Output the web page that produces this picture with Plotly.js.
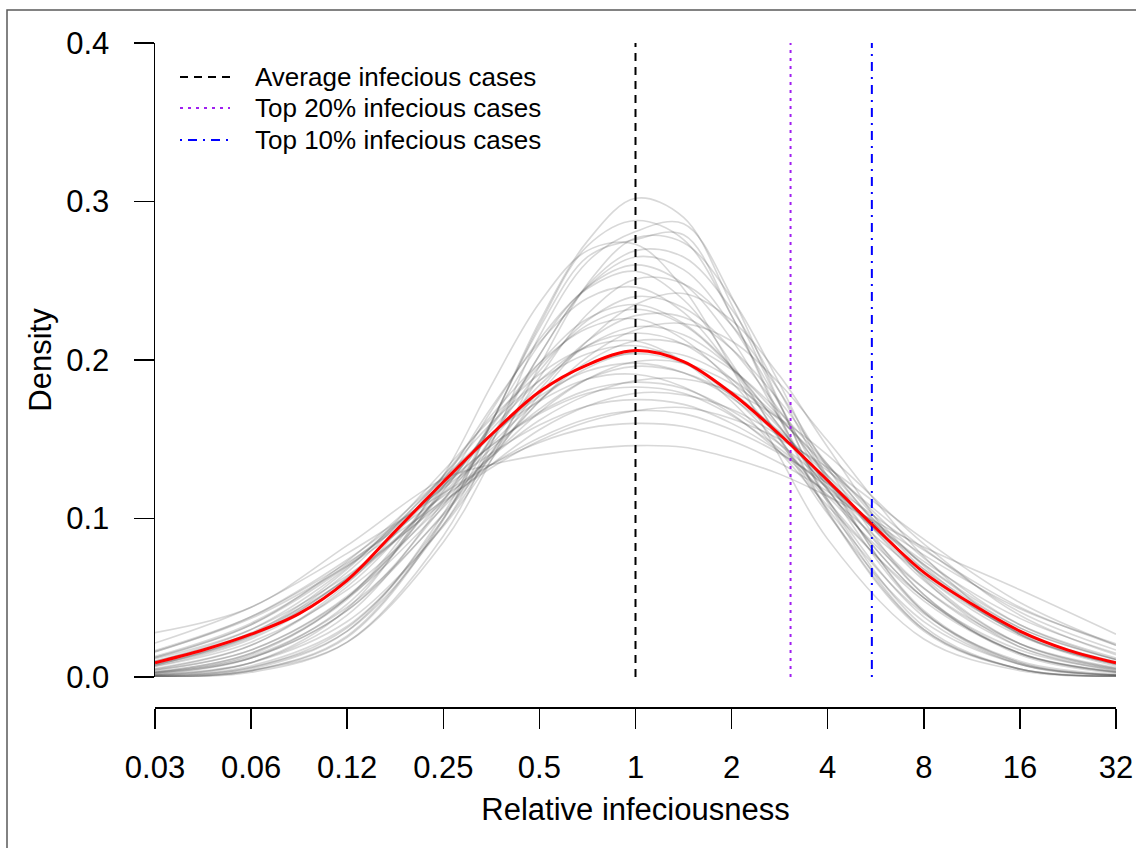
<!DOCTYPE html>
<html>
<head>
<meta charset="utf-8">
<script src="https://cdn.plot.ly/plotly-3.0.1.min.js"></script>
<style>
html,body{margin:0;padding:0;background:#fff;}
#chart{width:1136px;height:848px;}
</style>
</head>
<body>
<div id="chart"></div>
<script>
// ---- tick definitions ----
const xTickLog2 = [-5,-4,-3,-2,-1,0,1,2,3,4,5];
const xTickLabels = ["0.03","0.06","0.12","0.25","0.5","1","2","4","8","16","32"];
const yTickValues = [0,0.1,0.2,0.3,0.4];
const yTickLabels = ["0.0","0.1","0.2","0.3","0.4"];

// ---- individual (gray) density curves, sampled on log2 grid ----
const grayGridLog2 = [-5,-4,-3,-2,-1.5,-1,-0.5,0,0.5,1,1.5,2,3,4,5];
const grayDensities = [
  [0.0003,0.004,0.025,0.099,0.160,0.224,0.275,0.302,0.290,0.235,0.172,0.112,0.032,0.005,0.0007],
  [0.0003,0.003,0.022,0.089,0.147,0.215,0.262,0.281,0.286,0.240,0.173,0.110,0.030,0.005,0.0004],
  [0.0004,0.004,0.026,0.100,0.160,0.222,0.272,0.288,0.276,0.228,0.165,0.105,0.030,0.005,0.0005],
  [0.0005,0.005,0.029,0.103,0.161,0.220,0.265,0.276,0.279,0.228,0.163,0.104,0.029,0.005,0.0005],
  [0.0004,0.004,0.022,0.085,0.137,0.196,0.248,0.277,0.274,0.239,0.185,0.126,0.041,0.008,0.001],
  [0.0012,0.009,0.043,0.127,0.184,0.236,0.269,0.273,0.245,0.195,0.139,0.087,0.024,0.004,0.0004],
  [0.0007,0.006,0.029,0.096,0.148,0.203,0.247,0.269,0.265,0.232,0.180,0.124,0.042,0.009,0.0012],
  [0.0008,0.006,0.031,0.100,0.151,0.203,0.246,0.265,0.257,0.222,0.172,0.119,0.041,0.009,0.0013],
  [0.0013,0.009,0.039,0.111,0.161,0.210,0.246,0.260,0.248,0.213,0.163,0.112,0.038,0.008,0.0012],
  [0.0018,0.012,0.046,0.120,0.168,0.213,0.245,0.256,0.238,0.198,0.150,0.103,0.035,0.008,0.0012],
  [0.0011,0.007,0.032,0.096,0.141,0.189,0.229,0.251,0.248,0.222,0.180,0.132,0.052,0.014,0.0025],
  [0.0026,0.014,0.050,0.124,0.170,0.211,0.239,0.246,0.230,0.195,0.151,0.106,0.040,0.010,0.0017],
  [0.0016,0.009,0.035,0.095,0.137,0.178,0.212,0.235,0.242,0.225,0.190,0.145,0.062,0.019,0.004],
  [0.0022,0.012,0.042,0.108,0.151,0.193,0.225,0.240,0.233,0.207,0.168,0.125,0.052,0.015,0.0031],
  [0.0031,0.015,0.049,0.117,0.159,0.198,0.226,0.235,0.223,0.196,0.158,0.118,0.050,0.015,0.0030],
  [0.0033,0.015,0.050,0.118,0.158,0.196,0.222,0.232,0.222,0.195,0.158,0.118,0.050,0.015,0.0033],
  [0.0026,0.012,0.042,0.103,0.142,0.181,0.212,0.228,0.227,0.207,0.174,0.134,0.063,0.021,0.005],
  [0.0048,0.020,0.059,0.127,0.165,0.198,0.220,0.226,0.213,0.186,0.150,0.111,0.048,0.015,0.0035],
  [0.0030,0.013,0.044,0.102,0.139,0.174,0.202,0.219,0.223,0.212,0.185,0.149,0.076,0.027,0.007],
  [0.0041,0.017,0.051,0.112,0.149,0.184,0.209,0.221,0.216,0.195,0.164,0.127,0.061,0.021,0.0055],
  [0.0054,0.020,0.057,0.120,0.156,0.187,0.209,0.217,0.210,0.188,0.157,0.121,0.056,0.019,0.0050],
  [0.0075,0.027,0.068,0.130,0.163,0.191,0.208,0.212,0.199,0.174,0.142,0.108,0.050,0.017,0.0045],
  [0.0045,0.017,0.050,0.107,0.141,0.174,0.199,0.212,0.210,0.194,0.167,0.134,0.070,0.027,0.008],
  [0.0078,0.026,0.066,0.127,0.160,0.187,0.204,0.209,0.199,0.177,0.147,0.114,0.056,0.021,0.0059],
  [0.0070,0.024,0.060,0.116,0.147,0.175,0.195,0.205,0.203,0.188,0.163,0.131,0.068,0.027,0.008],
  [0.0078,0.025,0.063,0.121,0.152,0.179,0.197,0.204,0.198,0.180,0.154,0.123,0.064,0.026,0.008],
  [0.0067,0.022,0.055,0.109,0.139,0.167,0.188,0.199,0.198,0.185,0.162,0.133,0.075,0.033,0.011],
  [0.0100,0.030,0.069,0.125,0.153,0.177,0.193,0.198,0.192,0.176,0.152,0.123,0.066,0.028,0.009],
  [0.0085,0.026,0.062,0.115,0.144,0.169,0.188,0.196,0.192,0.178,0.155,0.127,0.071,0.031,0.011],
  [0.0122,0.033,0.073,0.126,0.153,0.174,0.188,0.191,0.183,0.166,0.142,0.115,0.064,0.028,0.0097],
  [0.0100,0.028,0.062,0.112,0.139,0.162,0.178,0.187,0.188,0.180,0.163,0.140,0.084,0.039,0.014],
  [0.0123,0.033,0.070,0.120,0.146,0.167,0.181,0.186,0.182,0.168,0.147,0.122,0.071,0.033,0.012],
  [0.0130,0.034,0.071,0.121,0.146,0.166,0.179,0.183,0.179,0.165,0.144,0.119,0.068,0.031,0.011],
  [0.0115,0.030,0.064,0.110,0.134,0.156,0.171,0.179,0.178,0.169,0.152,0.130,0.081,0.041,0.017],
  [0.0158,0.038,0.074,0.119,0.141,0.159,0.171,0.175,0.172,0.160,0.142,0.120,0.073,0.037,0.015],
  [0.0160,0.037,0.070,0.111,0.132,0.149,0.161,0.168,0.170,0.163,0.150,0.132,0.087,0.047,0.020],
  [0.0167,0.038,0.072,0.114,0.134,0.151,0.163,0.168,0.166,0.156,0.141,0.122,0.080,0.044,0.020],
  [0.0214,0.044,0.078,0.116,0.134,0.148,0.157,0.160,0.158,0.149,0.135,0.117,0.077,0.043,0.021],
  [0.028,0.044,0.083,0.125,0.134,0.140,0.144,0.146,0.145,0.138,0.128,0.114,0.082,0.055,0.027]
];

// ---- pooled (red) density curve ----
const pooledGridLog2 = [-5,-4.5,-4,-3.5,-3,-2.5,-2,-1.5,-1,-0.5,0,0.5,1,1.5,2,2.5,3,3.5,4,4.5,5];
const pooledDensity  = [0.009,0.017,0.027,0.040,0.061,0.092,0.123,0.153,0.180,0.197,0.206,0.199,0.179,0.153,0.124,0.094,0.066,0.046,0.029,0.017,0.009];

// ---- reference lines ----
const referenceNames  = ["Average infecious cases","Top 20% infecious cases","Top 10% infecious cases"];
const referenceValues = [1, 3.06, 5.5];
const referenceColors = ["#000000","#A020F0","#0000FF"];
const referenceDashes = ["8px,6px","3px,5px","2px,6px,9px,6px"];
const yLimits = [0, 0.4];

const toX = g => Math.pow(2, g);
const FONT = "Liberation Sans, Arial, Helvetica, sans-serif";

const traces = [];
grayDensities.forEach(curve => {
  traces.push({
    type: "scatter", mode: "lines",
    x: grayGridLog2.map(toX), y: curve,
    line: {color: "rgba(70,70,70,0.21)", width: 1.6, shape: "spline", smoothing: 1},
    hoverinfo: "skip", showlegend: false
  });
});
referenceValues.forEach((v, i) => {
  traces.push({
    type: "scatter", mode: "lines",
    x: [v, v], y: yLimits,
    name: referenceNames[i],
    line: {color: referenceColors[i], width: 2, dash: referenceDashes[i]},
    hoverinfo: "skip", showlegend: false
  });
});
traces.push({
  type: "scatter", mode: "lines",
  x: pooledGridLog2.map(toX), y: pooledDensity,
  line: {color: "#FF0000", width: 3, shape: "spline", smoothing: 1},
  hoverinfo: "skip", showlegend: false
});

const L = 155, R = 20, T = 43, B = 141;
const W = 1136, H = 848;
const pw = W - L - R, ph = H - T - B;
const px2x = p => (p - L) / pw;
const px2y = p => (H - B - p) / ph;

// legend drawn as keyed samples + labels (top-left box)
const legendRowsPx = [77, 108, 140];
const shapes = [{
  type: "rect", xref: "paper", yref: "paper",
  x0: px2x(7), x1: px2x(W + 40),
  y0: px2y(H + 40), y1: px2y(10),
  line: {color: "#5a5a5a", width: 1.5}, fillcolor: "rgba(0,0,0,0)", layer: "below"
}];
const annotations = [];
referenceNames.forEach((name, i) => {
  shapes.push({
    type: "line", xref: "paper", yref: "paper",
    x0: px2x(180), x1: px2x(230), y0: px2y(legendRowsPx[i]), y1: px2y(legendRowsPx[i]),
    line: {color: referenceColors[i], width: 2, dash: referenceDashes[i]}
  });
  annotations.push({
    xref: "paper", yref: "paper", x: px2x(253), y: px2y(legendRowsPx[i]),
    xanchor: "left", yanchor: "middle", showarrow: false, text: name,
    font: {family: FONT, size: 26, color: "#000000"}
  });
});

const layout = {
  width: W, height: H,
  margin: {l: L, r: R, t: T, b: B, pad: 0},
  paper_bgcolor: "#ffffff", plot_bgcolor: "#ffffff",
  font: {family: FONT, color: "#000000", size: 31},
  showlegend: false,
  xaxis: {
    type: "log",
    range: [Math.log10(toX(-5)), Math.log10(toX(5))],
    domain: [0, 1],
    anchor: "free", position: 0,
    tickmode: "array",
    tickvals: xTickLog2.map(toX), ticktext: xTickLabels,
    ticks: "outside", ticklen: 20, tickwidth: 1.5, tickcolor: "#000",
    ticklabelstandoff: 12,
    showline: true, linecolor: "#000", linewidth: 1.5,
    showgrid: false, zeroline: false,
    tickfont: {family: FONT, size: 31, color: "#000"},
    title: {text: "Relative infeciousness", font: {family: FONT, size: 31, color: "#000"}, standoff: 14},
    automargin: false, fixedrange: true
  },
  yaxis: {
    range: yLimits,
    domain: [30 / ph, 1],
    tickmode: "array",
    tickvals: yTickValues, ticktext: yTickLabels,
    ticks: "outside", ticklen: 20, tickwidth: 1.5, tickcolor: "#000",
    ticklabelstandoff: 18,
    showline: true, linecolor: "#000", linewidth: 1.5,
    showgrid: false, zeroline: false,
    tickfont: {family: FONT, size: 31, color: "#000"},
    title: {text: "Density", font: {family: FONT, size: 31, color: "#000"}, standoff: 5},
    automargin: false, fixedrange: true
  },
  shapes: shapes,
  annotations: annotations
};

Plotly.newPlot("chart", traces, layout, {staticPlot: true, displayModeBar: false});
</script>
</body>
</html>
